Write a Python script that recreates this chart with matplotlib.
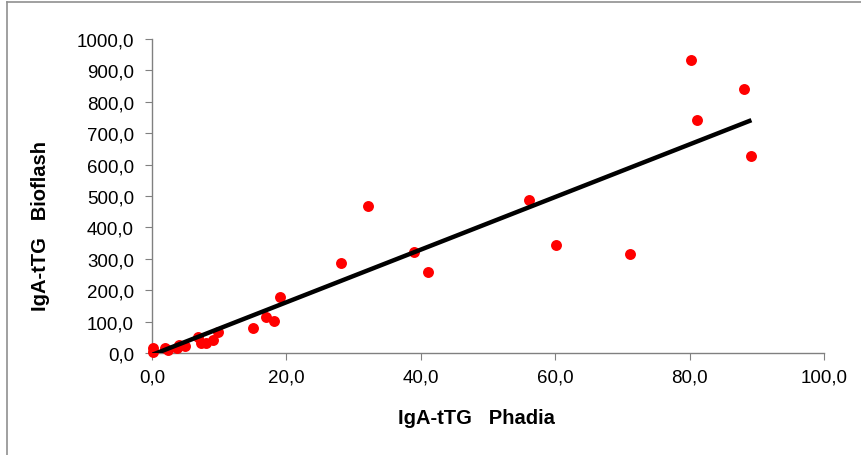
import numpy as np
import matplotlib.pyplot as plt
from matplotlib.lines import Line2D
from matplotlib.ticker import FuncFormatter

plt.rcParams["font.family"] = ["Liberation Sans", "DejaVu Sans"]

# values
phadia = [0.1, 0.1, 1.9, 2.4, 3.7, 4.0, 4.9, 6.8, 7.3, 8.0, 9.1, 9.8,
          15.0, 17.0, 18.2, 19.0, 28.1, 32.1, 39.0, 41.1, 56.1, 60.1,
          71.1, 80.2, 81.1, 88.1, 89.2]
bioflash = [15, 2, 16, 10, 15, 26, 22, 51, 32, 32, 42, 67,
            80, 115, 102, 179, 288, 469, 321, 257, 487, 343,
            316, 934, 742, 840, 628]

# trend line as drawn in the reference
trend_slope = 8.38
trend_intercept = -6.0

fig = plt.figure(figsize=(8.61, 4.56), dpi=100)
ax = fig.add_axes([152 / 861, 1 - 354 / 456, 672 / 861, 314 / 456])

ax.scatter(phadia, bioflash, s=62, color="#ff0000", zorder=3, linewidths=0,
           clip_on=False)

xs = np.array([min(phadia), max(phadia)])
ax.plot(xs, trend_slope * xs + trend_intercept, color="black", lw=3.2,
        zorder=4, solid_capstyle="butt")

ax.set_xlim(0, 100)
ax.set_ylim(0, 1000)
ax.set_xticks(np.arange(0, 101, 20))
ax.set_yticks(np.arange(0, 1001, 100))
fmt = FuncFormatter(lambda v, p: f"{v:.1f}".replace(".", ","))
ax.xaxis.set_major_formatter(fmt)
ax.yaxis.set_major_formatter(fmt)

for side in ("top", "right"):
    ax.spines[side].set_visible(False)
for side in ("left", "bottom"):
    ax.spines[side].set_color("#808080")
    ax.spines[side].set_linewidth(1.0)
ax.tick_params(direction="out", length=5, color="#808080", labelsize=13.5,
               labelcolor="black")
ax.tick_params(axis="x", pad=6)
ax.tick_params(axis="y", pad=8)

ax.set_xlabel("IgA-tTG   Phadia", fontsize=14.5, fontweight="bold")
ax.set_ylabel("IgA-tTG   Bioflash", fontsize=14.5, fontweight="bold")
ax.xaxis.set_label_coords((476 - 152) / 672, -(409 - 354) / 314)
ax.yaxis.set_label_coords(-(152 - 50) / 672, (354 - 226) / 314)

# outer frame of the picture (left and top edges)
fig.add_artist(Line2D([6.5 / 861, 6.5 / 861], [0, 1 - 3 / 456],
                      transform=fig.transFigure, color="#909090", lw=1.2))
fig.add_artist(Line2D([6.5 / 861, 1], [1 - 3 / 456, 1 - 3 / 456],
                      transform=fig.transFigure, color="#909090", lw=1.2))

fig.savefig("out.png", dpi=100)
